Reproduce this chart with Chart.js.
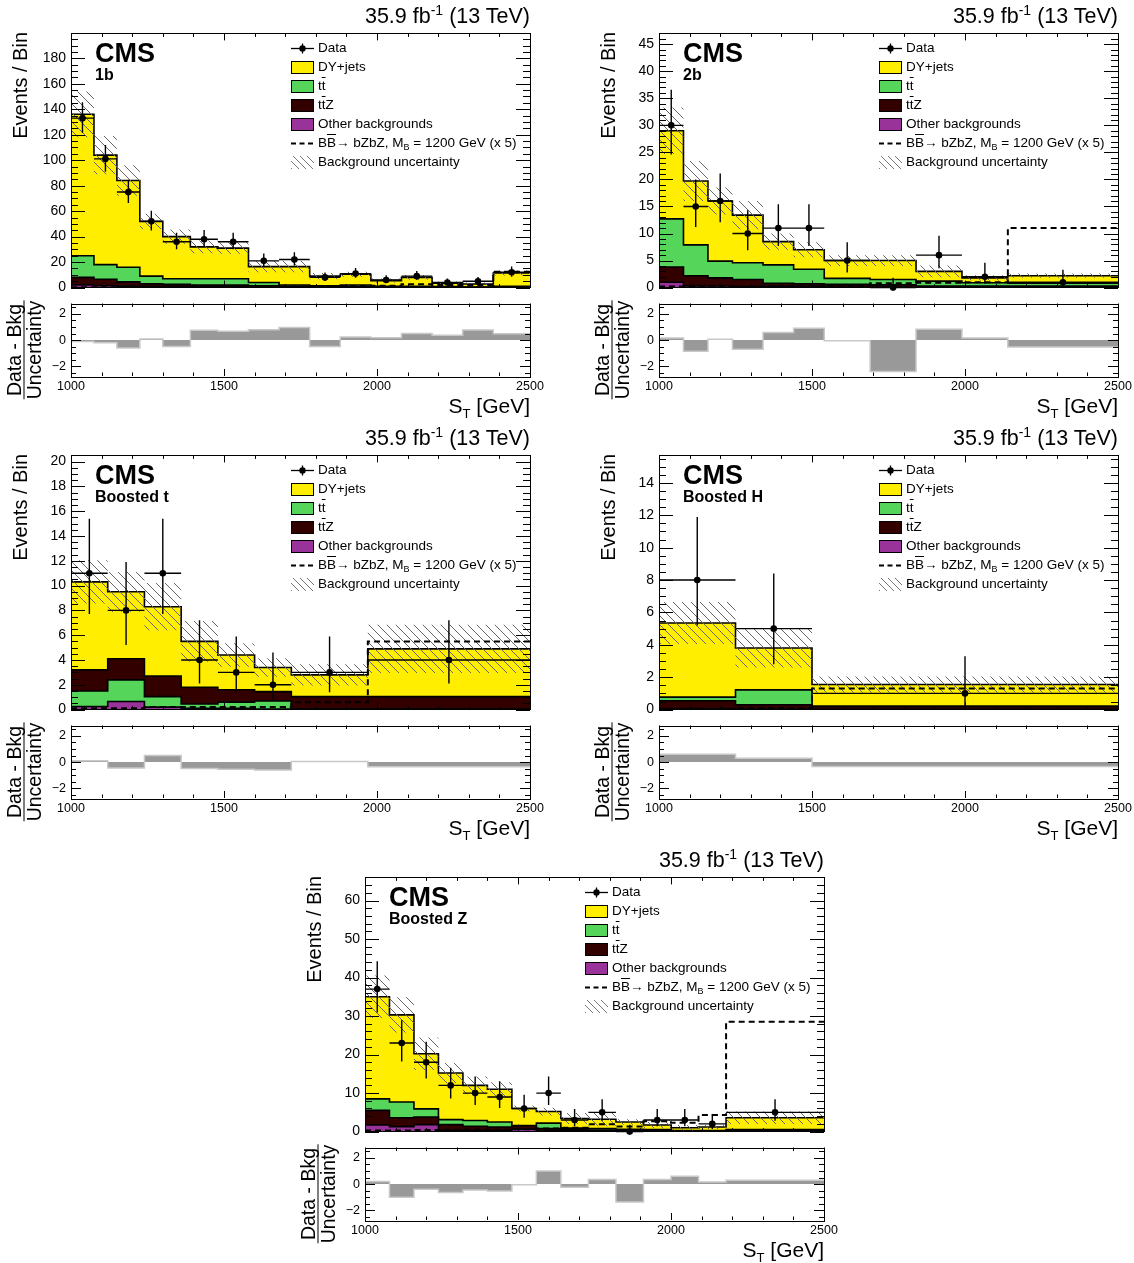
<!DOCTYPE html>
<html lang="en">
<head>
<meta charset="UTF-8">
<title>S_T distributions, B-Bbar to bZbZ search</title>
<script src="https://cdn.jsdelivr.net/npm/chart.js@4.4.1/dist/chart.umd.min.js"></script>
<style>
  body { margin: 0; background: #fff; }
  #page {
    position: relative; width: 1134px; height: 1263px; overflow: hidden;
    font-family: 'Liberation Sans', Arial, Helvetica, sans-serif; color: #000;
  }
  .txt { position: absolute; white-space: nowrap; line-height: 1; }
  .lumi { font-size: 21.5px; }
  .lumi sup { font-size: 14px; vertical-align: 8px; line-height: 0; }
  .cms { font-size: 27px; font-weight: bold; }
  .cat { font-size: 16px; font-weight: bold; }
  .leg { font-size: 13.5px; line-height: 16px; }
  .leg sub { font-size: 9px; vertical-align: -3px; line-height: 0; }
  .ov { text-decoration: overline; }
  .sw { position: absolute; width: 23px; height: 13px; box-sizing: border-box; border: 1px solid #000; }
  .hatch { border: none; background: repeating-linear-gradient(45deg, #777 0 1px, transparent 1px 5px); }
  .ytitle { font-size: 20px; line-height: 22px; width: 200px; text-align: right; transform-origin: 0 0; transform: rotate(-90deg); }
  .frac { font-size: 19.5px; line-height: 19px; text-align: center; transform: translate(-50%, -50%) rotate(-90deg); }
  .frac .den { border-top: 1px solid #000; }
  .xtitle { font-size: 21px; }
  .xtitle sub { font-size: 13px; vertical-align: -5px; line-height: 0; }
  .wrap { position: absolute; }
</style>
</head>
<body>
<div id="page"></div>

<script>
// ---------------- data ----------------
// 1b category
const edges1b  = [1000, 1075, 1150, 1225, 1300, 1390, 1480, 1580, 1680, 1780, 1880, 1980, 2080, 2180, 2280, 2380, 2500];
const other1b  = [2.0, 1.5, 1.0, 1.0, 0.8, 0.5, 0.5, 0.3, 0.3, 0.2, 0.2, 0.1, 0.1, 0.1, 0.1, 0.1];
const ttz1b    = [6.0, 5.0, 3.5, 2.0, 1.7, 1.5, 1.5, 1.2, 0.7, 0.6, 0.6, 0.4, 0.4, 0.3, 0.2, 0.5];
const tt1b     = [17.0, 11.5, 11.5, 6.0, 4.5, 5.0, 5.0, 2.5, 1.0, 0.7, 1.2, 0.5, 0.5, 0.4, 0.2, 0.4];
const dy1b     = [111, 86, 68, 43, 33, 25, 24, 12.5, 14.5, 7.5, 8.5, 4.5, 7.0, 2.7, 2.3, 10.5];
const unc1b    = [18, 15, 12, 6, 5.5, 5, 4.5, 4.5, 4.5, 2.5, 2, 1.7, 1.8, 1.2, 1.2, 2];
const sig1b    = [0.3, 0.3, 0.4, 0.5, 0.5, 0.6, 0.6, 0.8, 0.8, 1.0, 1.2, 1.5, 2.6, 2.0, 2.0, 12.5];
const data1b   = [133, 101, 75, 52, 36, 38, 36, 21, 22, 8, 11, 6, 9, 4, 5, 12];
const errLo1b  = [11.5, 10, 8.6, 7.2, 6, 6.1, 6, 4.6, 4.7, 2.8, 3.3, 2.4, 2.9, 1.9, 2.2, 3.4];
const errHi1b  = [12.5, 11, 9.7, 8.3, 7, 7.2, 7, 5.7, 5.8, 3.9, 4.4, 3.6, 4.1, 3.2, 3.4, 4.6];
const pull1b   = [-0.1, -0.2, -0.6, 0.08, -0.5, 0.75, 0.67, 0.8, 0.97, -0.5, 0.23, 0.18, 0.5, 0.36, 0.77, 0.49];

// 2b category
const edges2b  = [1000, 1080, 1160, 1240, 1340, 1440, 1540, 1690, 1840, 1990, 2140, 2500];
const other2b  = [1.0, 0.3, 0.3, 0.2, 0.2, 0.2, 0.1, 0.1, 0.1, 0.1, 0.1];
const ttz2b    = [2.8, 1.9, 1.5, 1.3, 0.6, 0.5, 0.5, 0.4, 0.2, 0.2, 0.2];
const tt2b     = [8.9, 5.7, 3.1, 3.1, 3.4, 2.7, 1.1, 1.0, 0.9, 0.6, 0.5];
const dy2b     = [16.3, 11.8, 11.1, 8.8, 4.3, 3.6, 3.3, 3.5, 1.8, 0.9, 1.4];
const unc2b    = [4.3, 3.7, 2.5, 2.6, 1.5, 1.4, 1.0, 1.0, 1.1, 0.5, 0.4];
const sig2b    = [0.2, 0.2, 0.2, 0.2, 0.3, 0.3, 0.4, 0.8, 0.9, 1.0, 11];
const data2b   = [30, 15, 16, 10, 11, 11, 5, 0, 6, 2, 1];
const errLo2b  = [5.4, 3.8, 3.9, 3.1, 3.3, 3.3, 2.2, 0, 2.4, 1.3, 0.8];
const errHi2b  = [6.6, 5.0, 5.1, 4.3, 4.4, 4.4, 3.4, 1.8, 3.6, 2.6, 2.3];
const pull2b   = [0.15, -0.85, 0.07, -0.7, 0.58, 0.9, -0.05, -2.4, 0.83, 0.15, -0.53];

// Boosted t category
const edgesT   = [1000, 1120, 1240, 1360, 1480, 1600, 1720, 1970, 2500];
const otherT   = [0.25, 0.65, 0.2, 0.1, 0.1, 0.05, 0.02, 0.02];
const ttT      = [1.25, 1.75, 0.85, 0.35, 0.5, 0.65, 0.03, 0.03];
const ttzT     = [1.7, 1.7, 1.65, 1.35, 1.0, 0.75, 1.0, 1.0];
const dyT      = [7.1, 5.4, 5.6, 3.7, 2.8, 1.95, 1.75, 3.85];
const uncT     = [1.75, 1.6, 1.9, 1.65, 0.95, 0.75, 0.85, 1.95];
const sigT     = [0.1, 0.1, 0.2, 0.2, 0.2, 0.2, 0.6, 5.5];
const dataT    = [11, 8, 11, 4, 3, 2, 3, 4];
const errLoT   = [3.3, 2.8, 3.3, 1.9, 1.6, 1.3, 1.6, 1.9];
const errHiT   = [4.4, 3.9, 4.4, 3.2, 2.9, 2.6, 2.9, 3.2];
const pullT    = [0.1, -0.45, 0.5, -0.5, -0.55, -0.6, 0.05, -0.35];

// Boosted H category
const edgesH   = [1000, 1250, 1500, 2500];
const otherH   = [0.05, 0.02, 0.02];
const ttzH     = [0.5, 0.28, 0.18];
const ttH      = [0.22, 0.92, 0.0];
const dyH      = [4.58, 2.58, 1.35];
const uncH     = [1.3, 1.2, 0.5];
const sigH     = [0.05, 0.1, 1.3];
const dataH    = [8, 5, 1];
const errLoH   = [2.8, 2.2, 0.8];
const errHiH   = [3.9, 3.4, 2.3];
const pullH    = [0.6, 0.3, -0.33];

// Boosted Z category
const edgesZ   = [1000, 1080, 1160, 1240, 1320, 1400, 1480, 1560, 1640, 1730, 1820, 1910, 2000, 2090, 2180, 2500];
const otherZ   = [1.7, 1.3, 1.8, 0.3, 0.3, 0.3, 0.6, 0.3, 0.2, 0.2, 0.1, 0.1, 0.1, 0.1, 0.2];
const ttzZ     = [3.8, 2.3, 2.0, 1.5, 1.1, 0.9, 0.9, 0.5, 0.4, 0.2, 0.2, 0.2, 0.1, 0.1, 0.2];
const ttZ      = [3.0, 4.1, 2.1, 1.3, 1.5, 1.3, 0.1, 1.4, 0.3, 0.4, 0.3, 0.2, 0.1, 0.1, 0.1];
const dyZ      = [26.5, 22.6, 14.3, 12.1, 9.1, 8.5, 4.4, 3.0, 2.5, 2.4, 1.9, 1.2, 0.7, 0.9, 3.1];
const uncZ     = [5.5, 4.6, 4.2, 2.6, 2.3, 1.8, 0.8, 1.0, 1.4, 1.8, 0.7, 0.8, 0.7, 0.5, 1.6];
const sigZ     = [0.3, 0.3, 0.4, 0.4, 0.5, 0.5, 0.6, 0.8, 1.0, 1.9, 1.3, 2.7, 2.3, 4.3, 28.5];
const dataZ    = [37, 23, 18, 12, 10, 9, 6, 10, 3, 5, 0, 3, 3, 2, 5];
const errLoZ   = [6.1, 4.8, 4.2, 3.4, 3.1, 2.9, 2.4, 3.1, 1.6, 2.2, 0, 1.6, 1.6, 1.3, 2.2];
const errHiZ   = [7.2, 5.9, 5.3, 4.6, 4.3, 4.1, 3.6, 4.3, 2.9, 3.4, 1.8, 2.9, 2.9, 2.6, 3.4];
const pullZ    = [0.2, -1.0, -0.4, -0.65, -0.45, -0.53, -0.05, 1.0, -0.25, 0.35, -1.37, 0.35, 0.6, 0.15, 0.3];

// ---------------- styling ----------------
const COL = { dy: '#ffee00', tt: '#55d55a', ttz: '#330000', other: '#993399' };
const W = 459, HM = 257, HR = 73;   // frame sizes in px
const YAX = 56, PADR = 22, PADV = 12;

// panels: frame position + which arrays to use
const panels = [
  { L: 71,  T: 32,  RT: 303,  cat: '1b', edges: edges1b,
    stack: [['other', other1b], ['ttz', ttz1b], ['tt', tt1b], ['dy', dy1b]],
    unc: unc1b, sig: sig1b, data: data1b, lo: errLo1b, hi: errHi1b, pull: pull1b,
    yMax: 199.5, yMajor: 20, yMinor: 5 },
  { L: 659, T: 32,  RT: 303,  cat: '2b', edges: edges2b,
    stack: [['other', other2b], ['ttz', ttz2b], ['tt', tt2b], ['dy', dy2b]],
    unc: unc2b, sig: sig2b, data: data2b, lo: errLo2b, hi: errHi2b, pull: pull2b,
    yMax: 47, yMajor: 5, yMinor: 1 },
  { L: 71,  T: 454, RT: 725,  cat: 'Boosted t', edges: edgesT,
    stack: [['other', otherT], ['tt', ttT], ['ttz', ttzT], ['dy', dyT]],
    unc: uncT, sig: sigT, data: dataT, lo: errLoT, hi: errHiT, pull: pullT,
    yMax: 20.5, yMajor: 2, yMinor: 0.5 },
  { L: 659, T: 454, RT: 725,  cat: 'Boosted H', edges: edgesH,
    stack: [['other', otherH], ['ttz', ttzH], ['tt', ttH], ['dy', dyH]],
    unc: uncH, sig: sigH, data: dataH, lo: errLoH, hi: errHiH, pull: pullH,
    yMax: 15.7, yMajor: 2, yMinor: 0.5 },
  { L: 365, T: 876, RT: 1147, cat: 'Boosted Z', edges: edgesZ,
    stack: [['other', otherZ], ['ttz', ttzZ], ['tt', ttZ], ['dy', dyZ]],
    unc: uncZ, sig: sigZ, data: dataZ, lo: errLoZ, hi: errHiZ, pull: pullZ,
    yMax: 66, yMajor: 10, yMinor: 2 }
];

Chart.defaults.font.family = "'Liberation Sans', Arial, Helvetica, sans-serif";
Chart.defaults.color = '#000';

// ROOT-like frame: box plus inward ticks on all four sides
const rootFrame = {
  id: 'rootFrame',
  afterDatasetsDraw(chart, args, o) {
    const { ctx, chartArea: a } = chart;
    const x = chart.scales.x, y = chart.scales.y;
    const eps = 1e-6;
    ctx.save();
    ctx.strokeStyle = '#000';
    ctx.lineWidth = 1;
    ctx.beginPath();
    for (let k = Math.ceil(x.min / o.xMinor - eps); k * o.xMinor <= x.max + eps; k++) {
      const v = k * o.xMinor;
      const major = Math.abs(v / o.xMajor - Math.round(v / o.xMajor)) < eps;
      const len = major ? o.xLen : o.xLen / 2;
      const px = Math.round(x.getPixelForValue(v)) + 0.5;
      ctx.moveTo(px, a.bottom); ctx.lineTo(px, a.bottom - len);
      ctx.moveTo(px, a.top); ctx.lineTo(px, a.top + len);
    }
    for (let k = Math.ceil(y.min / o.yMinor - eps); k * o.yMinor <= y.max + eps; k++) {
      const v = k * o.yMinor;
      const major = Math.abs(v / o.yMajor - Math.round(v / o.yMajor)) < eps;
      const len = major ? o.yLen : o.yLen / 2;
      const py = Math.round(y.getPixelForValue(v)) + 0.5;
      ctx.moveTo(a.left, py); ctx.lineTo(a.left + len, py);
      ctx.moveTo(a.right, py); ctx.lineTo(a.right - len, py);
    }
    ctx.stroke();
    ctx.strokeRect(Math.round(a.left) + 0.5, Math.round(a.top) + 0.5, Math.round(a.width), Math.round(a.height));
    ctx.restore();
  }
};
Chart.register(rootFrame);

const page = document.getElementById('page');

function makeHatch() {
  const s = 9;
  const c = document.createElement('canvas');
  c.width = s; c.height = s;
  const g = c.getContext('2d');
  g.strokeStyle = '#666';
  g.lineWidth = 1;
  g.beginPath();
  g.moveTo(0, 0); g.lineTo(s, s);
  g.moveTo(-2, s - 2); g.lineTo(2, s + 2);
  g.moveTo(s - 2, -2); g.lineTo(s + 2, 2);
  g.stroke();
  return g.createPattern(c, 'repeat');
}
const hatch = makeHatch();

function addCanvas(left, top, w, h) {
  const wrap = document.createElement('div');
  wrap.className = 'wrap';
  wrap.style.cssText = `left:${left}px;top:${top}px;width:${w}px;height:${h}px;`;
  const c = document.createElement('canvas');
  c.width = w; c.height = h;
  wrap.appendChild(c);
  page.appendChild(wrap);
  return c;
}

function addText(cls, html, css) {
  const d = document.createElement('div');
  d.className = 'txt ' + cls;
  d.innerHTML = html;
  Object.assign(d.style, css);
  page.appendChild(d);
  return d;
}

// histogram -> points for a stepped line (value holds until next edge)
function histPoints(edges, vals) {
  const pts = vals.map((v, i) => ({ x: edges[i], y: v }));
  pts.push({ x: edges[edges.length - 1], y: vals[vals.length - 1] });
  return pts;
}

function filterTicks(step) {
  return scale => {
    scale.ticks = scale.ticks.filter(t => Math.abs(t.value / step - Math.round(t.value / step)) < 1e-6);
  };
}

function histLine(pts, extra) {
  return Object.assign({ type: 'line', data: pts, stepped: 'before', pointRadius: 0, fill: false,
    borderWidth: 0, borderColor: 'rgba(0,0,0,0)' }, extra);
}

function buildMain(p) {
  const canvas = addCanvas(p.L - YAX, p.T - PADV, YAX + W + PADR, HM + 2 * PADV);
  const datasets = [];
  let cum = p.data.map(() => 0);
  p.stack.forEach(([key, vals], i) => {
    cum = cum.map((c, j) => c + vals[j]);
    datasets.push(histLine(histPoints(p.edges, cum), {
      fill: i === 0 ? 'origin' : '-1', backgroundColor: COL[key],
      borderColor: '#000', borderWidth: 1.6, order: 10 }));
  });
  const bandLo = cum.map((c, j) => c - p.unc[j]);
  const bandHi = cum.map((c, j) => c + p.unc[j]);
  datasets.push(histLine(histPoints(p.edges, bandLo), { order: 6 }));
  datasets.push(histLine(histPoints(p.edges, bandHi), { fill: '-1', backgroundColor: hatch, order: 6 }));
  datasets.push(histLine(histPoints(p.edges, p.sig), {
    borderColor: '#000', borderWidth: 2, borderDash: [6, 4], order: 4 }));

  // data error bars: vertical (Poisson interval) and horizontal (bin width)
  const vbar = [], hbar = [], pts = [];
  p.data.forEach((v, i) => {
    const c = (p.edges[i] + p.edges[i + 1]) / 2;
    vbar.push({ x: c, y: v - p.lo[i] }, { x: c, y: v + p.hi[i] }, { x: c, y: null });
    hbar.push({ x: p.edges[i], y: v }, { x: p.edges[i + 1], y: v }, { x: p.edges[i + 1], y: null });
    pts.push({ x: c, y: v });
  });
  datasets.push({ type: 'line', data: vbar, borderColor: '#000', borderWidth: 1.4, pointRadius: 0, fill: false, clip: false, order: 2 });
  datasets.push({ type: 'line', data: hbar, borderColor: '#000', borderWidth: 1.4, pointRadius: 0, fill: false, clip: false, order: 2 });
  datasets.push({ type: 'line', data: pts, showLine: false, pointRadius: 3.3, pointBackgroundColor: '#000',
    pointBorderColor: '#000', pointBorderWidth: 0, clip: false, order: 1 });

  new Chart(canvas, {
    type: 'line',
    data: { datasets },
    options: {
      responsive: false, animation: false, events: [],
      layout: { padding: { left: 0, right: PADR, top: PADV, bottom: PADV }, autoPadding: false },
      plugins: { legend: { display: false }, tooltip: { enabled: false },
        rootFrame: { xMajor: 500, xMinor: 100, xLen: 7, yMajor: p.yMajor, yMinor: p.yMinor, yLen: 14 } },
      scales: {
        x: { type: 'linear', min: 1000, max: 2500, display: false },
        y: { type: 'linear', min: 0, max: p.yMax,
          grid: { display: false, drawTicks: false }, border: { display: false },
          ticks: { stepSize: p.yMajor, includeBounds: false, padding: 5, autoSkip: false,
            font: { size: 14 }, callback: v => String(v) },
          afterBuildTicks: filterTicks(p.yMajor),
          afterFit: s => { s.width = YAX; } }
      }
    }
  });
}

function buildRatio(p) {
  const canvas = addCanvas(p.L - YAX, p.RT - PADV, YAX + W + PADR, HR + PADV + 26);
  new Chart(canvas, {
    type: 'line',
    data: { datasets: [histLine(histPoints(p.edges, p.pull), {
      fill: 'origin', backgroundColor: '#999999', borderColor: '#c8c8c8', borderWidth: 1.5 })] },
    options: {
      responsive: false, animation: false, events: [],
      layout: { padding: { left: 0, right: PADR, top: PADV, bottom: 0 }, autoPadding: false },
      plugins: { legend: { display: false }, tooltip: { enabled: false },
        rootFrame: { xMajor: 500, xMinor: 100, xLen: 7, yMajor: 2, yMinor: 0.5, yLen: 10 } },
      scales: {
        x: { type: 'linear', min: 1000, max: 2500,
          grid: { display: false, drawTicks: false }, border: { display: false },
          ticks: { stepSize: 500, padding: 3, maxRotation: 0, autoSkip: false, font: { size: 12.5 },
            callback: v => String(v) },
          afterBuildTicks: filterTicks(500),
          afterFit: s => { s.height = 26; } },
        y: { type: 'linear', min: -2.75, max: 2.8,
          grid: { display: false, drawTicks: false }, border: { display: false },
          ticks: { stepSize: 2, includeBounds: false, padding: 5, autoSkip: false, font: { size: 12.5 },
            callback: v => (v < 0 ? '\u2212' + Math.abs(v) : String(v)) },
          afterBuildTicks: filterTicks(2),
          afterFit: s => { s.width = YAX; } }
      }
    }
  });
}

function buildLabels(p) {
  const pageW = 1134;
  addText('lumi', '35.9 fb<sup>-1</sup> (13 TeV)', { right: (pageW - p.L - W) + 'px', top: (p.T - 26) + 'px' });
  addText('cms', 'CMS', { left: (p.L + 24) + 'px', top: (p.T + 8) + 'px' });
  addText('cat', p.cat, { left: (p.L + 24) + 'px', top: (p.T + 35) + 'px' });

  const rows = [
    ['data', 'Data'],
    ['dy', 'DY+jets'],
    ['tt', 't<span class="ov">t</span>'],
    ['ttz', 't<span class="ov">t</span>Z'],
    ['other', 'Other backgrounds'],
    ['sig', 'B<span class="ov">B</span>&rarr; bZbZ, M<sub>B</sub> = 1200 GeV (x 5)'],
    ['unc', 'Background uncertainty']
  ];
  rows.forEach(([key, label], i) => {
    const cy = p.T + 16 + 19 * i;
    const sx = p.L + 220;
    if (COL[key]) {
      const s = document.createElement('div');
      s.className = 'sw';
      s.style.cssText = `left:${sx}px;top:${cy - 6.5}px;background:${COL[key]};`;
      page.appendChild(s);
    } else if (key === 'unc') {
      const s = document.createElement('div');
      s.className = 'sw hatch';
      s.style.cssText = `left:${sx}px;top:${cy - 6.5}px;`;
      page.appendChild(s);
    } else {
      const s = document.createElementNS('http://www.w3.org/2000/svg', 'svg');
      s.setAttribute('width', '23'); s.setAttribute('height', '13');
      s.style.cssText = `position:absolute;left:${sx}px;top:${cy - 6.5}px;`;
      s.innerHTML = key === 'data'
        ? '<line x1="0" y1="6.5" x2="23" y2="6.5" stroke="#000" stroke-width="1.3"/>' +
          '<line x1="11.5" y1="1.5" x2="11.5" y2="11.5" stroke="#000" stroke-width="1.3"/>' +
          '<circle cx="11.5" cy="6.5" r="3.2" fill="#000"/>'
        : '<line x1="0" y1="6.5" x2="23" y2="6.5" stroke="#000" stroke-width="2" stroke-dasharray="5 3.5"/>';
      page.appendChild(s);
    }
    addText('leg', label, { left: (p.L + 247) + 'px', top: (cy - 8) + 'px' });
  });

  // axis titles
  addText('ytitle', 'Events / Bin', { left: (p.L - 51 - 11) + 'px', top: (p.T + 200) + 'px' });
  addText('frac', '<div>Data - Bkg</div><div class="den">Uncertainty</div>',
    { left: (p.L - 47) + 'px', top: (p.RT + 47) + 'px' });
  addText('xtitle', 'S<sub>T</sub> [GeV]', { right: (pageW - p.L - W) + 'px', top: (p.RT + HR + 19) + 'px' });
}

panels.forEach(p => {
  buildMain(p);
  buildRatio(p);
  buildLabels(p);
});
</script>
</body>
</html>
